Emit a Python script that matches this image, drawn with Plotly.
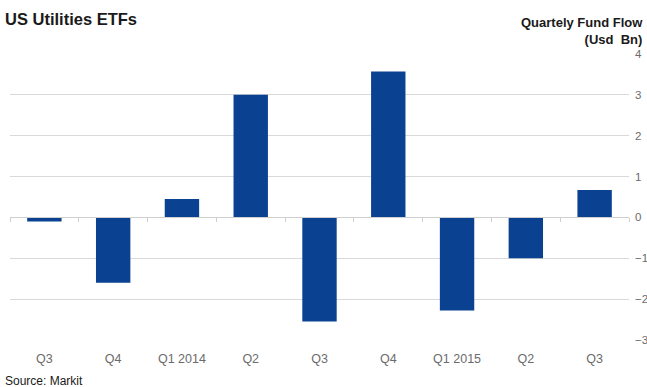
import plotly.graph_objects as go

categories = ["Q3 2013", "Q4 2013", "Q1 2014", "Q2 2014", "Q3 2014", "Q4 2014", "Q1 2015", "Q2 2015", "Q3 2015"]
tick_labels = ["Q3", "Q4", "Q1 2014", "Q2", "Q3", "Q4", "Q1 2015", "Q2", "Q3"]
fund_flow = [-0.1, -1.6, 0.45, 3.0, -2.55, 3.57, -2.28, -1.0, 0.67]
y_ticks = [4, 3, 2, 1, 0, -1, -2, -3]

fig = go.Figure()
fig.add_trace(go.Bar(x=categories, y=fund_flow, marker=dict(color="#0a4191", line=dict(width=0)),
                     showlegend=False, hoverinfo="x+y"))
fig.add_trace(go.Bar(x=categories, y=[None]*len(categories), xaxis="x2", showlegend=False, hoverinfo="skip"))

fig.update_layout(
    width=647, height=387,
    margin=dict(l=10, r=18, t=54, b=47, autoexpand=False),
    paper_bgcolor="white", plot_bgcolor="white",
    bargap=0.5,
    font=dict(family="Liberation Sans, Arial, sans-serif"),
    xaxis=dict(
        type="category", tickvals=categories, ticktext=tick_labels,
        showgrid=False, showline=False, ticks="", zeroline=False, automargin=False,
        tickfont=dict(size=12.5, color="#6b6b6b"), ticklabelstandoff=9,
    ),
    xaxis2=dict(
        type="category", overlaying="x", anchor="free", position=3/7,
        matches="x", tickvals=categories, showticklabels=False,
        tickson="boundaries", ticks="outside", ticklen=4, tickcolor="#cfcfcf",
        showline=True, linecolor="#cfcfcf", linewidth=1, showgrid=False, zeroline=False,
    ),
    yaxis=dict(
        side="right", range=[-3, 4], tickvals=y_ticks, showgrid=True, gridcolor="#d9d9d9",
        gridwidth=1, zeroline=False, showline=False, ticks="", automargin=False,
        tickfont=dict(size=11.5, color="#6b6b6b"), ticklabelstandoff=5,
    ),
    annotations=[
        dict(text="<b>US Utilities ETFs</b>", xref="paper", yref="paper", x=0, y=1,
             xanchor="left", yanchor="bottom", xshift=-7, yshift=24, showarrow=False,
             font=dict(size=16.5, color="#1a1a1a")),
        dict(text="<b>Quartely Fund Flow<br>(Usd  Bn)</b>", xref="paper", yref="paper", x=1, y=1,
             xanchor="right", yanchor="bottom", xshift=16, yshift=5, showarrow=False, align="right",
             font=dict(size=13, color="#1a1a1a")),
        dict(text="Source: Markit", xref="paper", yref="paper", x=0, y=0,
             xanchor="left", yanchor="top", xshift=-7, yshift=-32, showarrow=False,
             font=dict(size=12, color="#1a1a1a")),
    ],
)

fig.write_html("out.html")
